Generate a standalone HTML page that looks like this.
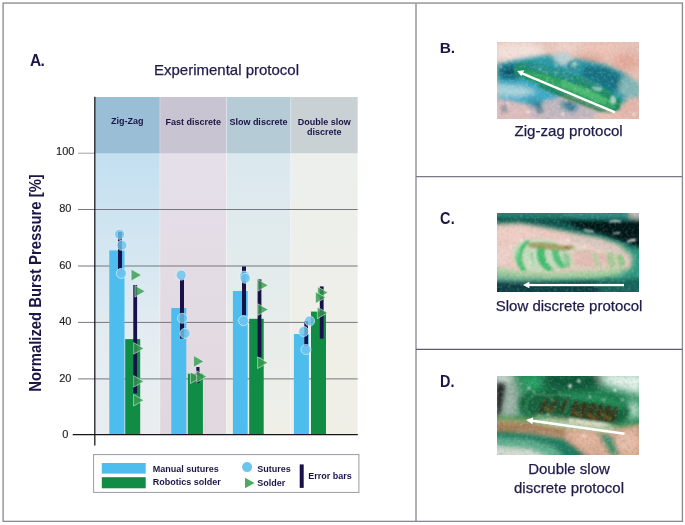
<!DOCTYPE html>
<html><head><meta charset="utf-8"><title>Figure</title>
<style>
html,body{margin:0;padding:0;background:#fff;}
svg{display:block;}
text{font-family:"Liberation Sans",Arial,sans-serif;}
.b{font-weight:bold;fill:#1b1546;}
.s{font-size:9px;font-weight:bold;fill:#1b1546;}
.cap{font-size:15px;fill:#1f1a4a;stroke:#1f1a4a;stroke-width:0.25px;}
.tick{font-size:11px;fill:#222;stroke:#222;stroke-width:0.15px;}
</style></head><body>
<svg width="685" height="525" viewBox="0 0 685 525">
<defs>
<linearGradient id="g1" x1="0" y1="0" x2="0" y2="1"><stop offset="0" stop-color="#b9dcf1"/><stop offset="0.75" stop-color="#e6edf1"/><stop offset="1" stop-color="#e9edef"/></linearGradient>
<linearGradient id="g2" x1="0" y1="0" x2="0" y2="1"><stop offset="0" stop-color="#e6e1ec"/><stop offset="1" stop-color="#e1d7de"/></linearGradient>
<linearGradient id="g3" x1="0" y1="0" x2="0" y2="1"><stop offset="0" stop-color="#d6e7f0"/><stop offset="1" stop-color="#efefe8"/></linearGradient>
<linearGradient id="g4" x1="0" y1="0" x2="0" y2="1"><stop offset="0" stop-color="#ecefee"/><stop offset="1" stop-color="#f0efe6"/></linearGradient>
<filter id="bl2" x="-20%" y="-20%" width="140%" height="140%"><feGaussianBlur stdDeviation="2"/></filter>
<filter id="bl4" x="-20%" y="-20%" width="140%" height="140%"><feGaussianBlur stdDeviation="4"/></filter>
<filter id="bl1" x="-20%" y="-20%" width="140%" height="140%"><feGaussianBlur stdDeviation="1"/></filter>
<filter id="noise" x="0" y="0" width="100%" height="100%"><feTurbulence type="fractalNoise" baseFrequency="0.35" numOctaves="3" seed="7" result="t"/><feColorMatrix type="matrix" values="0 0 0 0 1  0 0 0 0 1  0 0 0 0 1  1.6 0 0 0 -0.75"/></filter>
<filter id="noised" x="0" y="0" width="100%" height="100%"><feTurbulence type="fractalNoise" baseFrequency="0.3" numOctaves="3" seed="21" result="t"/><feColorMatrix type="matrix" values="0 0 0 0 0  0 0 0 0 0.1  0 0 0 0 0.1  0 1.6 0 0 -0.75"/></filter>
<clipPath id="cB"><rect x="497" y="42" width="142" height="77"/></clipPath>
<clipPath id="cC"><rect x="497" y="213" width="142" height="79"/></clipPath>
<clipPath id="cD"><rect x="497" y="376" width="142" height="79"/></clipPath>
</defs>
<rect width="685" height="525" fill="#fff"/>
<!-- outer frame -->
<rect x="3.1" y="3.05" width="679.3" height="518.3" fill="none" stroke="#8a8a94" stroke-width="1.35"/>
<line x1="416" y1="3.5" x2="416" y2="521.5" stroke="#84848f" stroke-width="1.3"/>
<line x1="416" y1="176.7" x2="682.4" y2="176.7" stroke="#7a7a86" stroke-width="1.2"/>
<line x1="416" y1="349.3" x2="682.4" y2="349.3" stroke="#5e5e6c" stroke-width="1.2"/>

<!-- chart A -->
<text class="b" transform="translate(30 65.6) scale(1 1.08)" font-size="15.5" letter-spacing="-0.6">A.</text>
<text x="226.5" y="74.9" font-size="15" text-anchor="middle" fill="#1f1a4a" stroke="#1f1a4a" stroke-width="0.25">Experimental protocol</text>

<g id="cols">
<rect x="95" y="97" width="65" height="337.5" fill="url(#g1)"/>
<rect x="160" y="97" width="66.6" height="337.5" fill="url(#g2)"/>
<rect x="226.6" y="97" width="64.2" height="337.5" fill="url(#g3)"/>
<rect x="290.8" y="97" width="66.8" height="337.5" fill="url(#g4)"/>
<rect x="95" y="97" width="65" height="56.2" fill="#9abed5"/>
<rect x="160" y="97" width="66.6" height="56.2" fill="#c9c4d1"/>
<rect x="226.6" y="97" width="64.2" height="56.2" fill="#b5cbd6"/>
<rect x="290.8" y="97" width="66.8" height="56.2" fill="#c9d1d5"/>
</g>
<g stroke="#ffffff" stroke-opacity="0.45" stroke-width="0.8"><line x1="159.9" y1="97" x2="159.9" y2="434"/><line x1="226.5" y1="97" x2="226.5" y2="434"/><line x1="290.7" y1="97" x2="290.7" y2="434"/></g>
<g id="grid" stroke="#77777d" stroke-width="1">
<line x1="78" y1="153.2" x2="95" y2="153.2" stroke-opacity="0.7"/>
<line x1="78" y1="209.5" x2="357.6" y2="209.5"/>
<line x1="78" y1="266" x2="357.6" y2="266"/>
<line x1="78" y1="322.4" x2="357.6" y2="322.4"/>
<line x1="78" y1="378.9" x2="357.6" y2="378.9"/>
</g>
<g class="tick" text-anchor="middle">
<text class="tick" x="65.3" y="155.3">100</text>
<text class="tick" x="65.3" y="211.9">80</text>
<text class="tick" x="65.3" y="268.5">60</text>
<text class="tick" x="65.3" y="325.1">40</text>
<text class="tick" x="65.3" y="381.8">20</text>
<text class="tick" x="65.3" y="438.2">0</text>
</g>
<text class="b" font-size="14.85" text-anchor="middle" transform="translate(40.9 283) rotate(-90) scale(1 1.09)">Normalized Burst Pressure [%]</text>

<g text-anchor="middle">
<text class="s" x="127.3" y="124.3">Zig-Zag</text>
<text class="s" x="193.3" y="124.7">Fast discrete</text>
<text class="s" x="258.4" y="124.6">Slow discrete</text>
<text class="s" x="324.3" y="124.6">Double slow</text>
<text class="s" x="324.3" y="135.3">discrete</text>
</g>

<!-- bars -->
<g id="bars">
<rect x="109.3" y="250.4" width="15.2" height="184.1" fill="#4dbdee"/>
<rect x="125.2" y="339.1" width="15" height="95.4" fill="#118c45"/>
<rect x="171.3" y="308" width="15" height="126.5" fill="#4dbdee"/>
<rect x="187.9" y="373.7" width="15" height="60.8" fill="#118c45"/>
<rect x="232.9" y="291" width="14.8" height="143.5" fill="#4dbdee"/>
<rect x="249.2" y="318.8" width="14.5" height="115.7" fill="#118c45"/>
<rect x="293.9" y="334" width="15" height="100.5" fill="#4dbdee"/>
<rect x="311" y="311.6" width="15" height="122.9" fill="#118c45"/>
</g>
<!-- error bars -->
<g fill="#19124a">
<rect x="118" y="232" width="4" height="37.3"/>
<rect x="133.3" y="285" width="3.8" height="108.4"/>
<rect x="180" y="279" width="4" height="59.6"/>
<rect x="196.3" y="367" width="3.2" height="16"/>
<rect x="242" y="266.5" width="4" height="49"/>
<rect x="257.6" y="279.4" width="3.8" height="77.6"/>
<rect x="304.3" y="321" width="3.7" height="25"/>
<rect x="319.8" y="286.4" width="3.8" height="52.2"/>
</g>
<!-- circles -->
<g fill="#6cc5ef" fill-opacity="0.82" stroke="#ffffff" stroke-opacity="0.75" stroke-width="0.7">
<circle cx="119.6" cy="234.3" r="5.05"/>
<circle cx="121.8" cy="245.3" r="5.05"/>
<circle cx="121.4" cy="273.4" r="5.05"/>
<circle cx="181.2" cy="275.1" r="5.05"/>
<circle cx="182.5" cy="318.3" r="5.05"/>
<circle cx="185" cy="333.4" r="5.05"/>
<circle cx="244.6" cy="276.1" r="5.05"/>
<circle cx="245.2" cy="278.3" r="5.05"/>
<circle cx="243.5" cy="320.6" r="5.05"/>
<circle cx="309.6" cy="321" r="5.05"/>
<circle cx="303.7" cy="331.5" r="5.05"/>
<circle cx="306" cy="349.5" r="5.05"/>
</g>
<!-- triangles -->
<g fill="#379c50" fill-opacity="0.82" stroke="#ffffff" stroke-opacity="0.7" stroke-width="0.7" stroke-linejoin="miter">
<path d="M131.2 269.3 L141.5 275.1 L131.2 280.9Z"/>
<path d="M134.9 285.5 L145.2 291.3 L134.9 297.1Z"/>
<path d="M133.6 342.6 L143.9 348.4 L133.6 354.2Z"/>
<path d="M133.6 375.6 L143.9 381.4 L133.6 387.2Z"/>
<path d="M133.6 394.4 L143.9 400.2 L133.6 406.0Z"/>
<path d="M193.6 355.6 L203.9 361.4 L193.6 367.2Z"/>
<path d="M190.4 371.9 L200.7 377.7 L190.4 383.5Z"/>
<path d="M196.6 370.8 L206.9 376.6 L196.6 382.4Z"/>
<path d="M257.9 279.5 L268.2 285.3 L257.9 291.1Z"/>
<path d="M257.9 303.8 L268.2 309.6 L257.9 315.4Z"/>
<path d="M257.6 356.9 L267.9 362.7 L257.6 368.5Z"/>
<path d="M317.7 286.8 L328.0 292.6 L317.7 298.4Z"/>
<path d="M315.5 291.8 L325.8 297.6 L315.5 303.4Z"/>
<path d="M317.3 307.1 L327.6 312.9 L317.3 318.7Z"/>
</g>
<!-- axes -->
<line x1="94.8" y1="96.8" x2="94.8" y2="445.6" stroke="#1c1c24" stroke-width="1.3"/>
<line x1="72.7" y1="434.6" x2="357.8" y2="434.6" stroke="#16161c" stroke-width="1.4"/>

<!-- legend -->
<rect x="93.6" y="454.6" width="265.3" height="37.8" fill="#fff" stroke="#9a9aa2" stroke-width="1"/>
<rect x="101.8" y="463" width="43.9" height="10.6" fill="#4dbdee"/>
<rect x="101.8" y="477.2" width="43.9" height="11.1" fill="#118c45"/>
<text class="s" x="152.7" y="471.6">Manual sutures</text>
<text class="s" x="152.7" y="485.4">Robotics solder</text>
<circle cx="247.1" cy="467.1" r="5" fill="#6cc5ef"/>
<path d="M245 477.7 L254.6 483 L245 488.3Z" fill="#4fa866"/>
<text class="s" x="257.2" y="471.6">Sutures</text>
<text class="s" x="257.2" y="485.8">Solder</text>
<rect x="299.7" y="464.4" width="4" height="23.5" fill="#19124a"/>
<text class="s" x="308.2" y="479.1">Error bars</text>

<!-- right panels -->
<text class="b" transform="translate(439.8 52.6) scale(1 0.96)" font-size="15.5" letter-spacing="-0.3">B.</text>
<text class="b" transform="translate(440.1 223.9) scale(1 1.09)" font-size="14.4" letter-spacing="0.2">C.</text>
<text class="b" transform="translate(440 387.3) scale(1 1.09)" font-size="14.4" letter-spacing="0.2">D.</text>
<text class="cap" x="568.6" y="135.9" style="font-size:15.1px" text-anchor="middle">Zig-zag protocol</text>
<text class="cap" x="569.1" y="310.7" text-anchor="middle">Slow discrete protocol</text>
<text class="cap" x="569" y="474.4" text-anchor="middle">Double slow</text>
<text class="cap" x="569" y="493" text-anchor="middle">discrete protocol</text>

<g id="photoB" clip-path="url(#cB)">
<rect x="497" y="42" width="142" height="77" fill="#e6c0b5"/>
<g filter="url(#bl4)">
<ellipse cx="518" cy="52" rx="28" ry="11" fill="#f3e0da"/>
<ellipse cx="566" cy="47" rx="14" ry="6" fill="#f0d4cb"/>
<ellipse cx="600" cy="50" rx="22" ry="7" fill="#efc4b6"/>
<ellipse cx="626" cy="62" rx="14" ry="9" fill="#e2a797"/>
<ellipse cx="590" cy="60" rx="14" ry="5" fill="#d79c8e"/>
<ellipse cx="628" cy="108" rx="18" ry="12" fill="#e4b4a8"/>
</g>
<g filter="url(#bl2)">
<path d="M497 64 L510 61 L528 58 L548 55 L566 57 L588 61 L606 65 L622 72 L634 80 L640 86 L640 94 L628 98 L622 104 L600 100 L570 92 L548 100 L530 104 L510 102 L497 100Z" fill="#2a9aa6"/>
<path d="M497 80 L520 78 L545 86 L562 95 L548 104 L520 104 L497 101Z" fill="#3eaac4"/>
<path d="M497 84 L522 86 L538 92 L520 97 L497 96Z" fill="#a4d0da"/>
<path d="M584 65 L606 67 L620 74 L625 86 L612 93 L596 85 L580 75Z" fill="#187283"/>
<path d="M499 66 L514 63 L522 70 L518 80 L504 80 L498 74Z" fill="#146a80"/>
<path d="M622 76 L640 82 L640 98 L626 98 L618 90Z" fill="#82b6b6"/>
<path d="M530 104 L560 98 L585 104 L600 112 L590 120 L530 120Z" fill="#c2b6bd"/>
<path d="M497 99 L520 103 L534 120 L497 120Z" fill="#dcbcbc"/>
<path d="M552 54 L566 52 L574 60 L566 66 L556 62Z" fill="#b9d0d4"/>
<path d="M560 100 L580 104 L576 112 L562 110Z" fill="#4f8fa3"/>
<path d="M528 98 L545 100 L540 108 L528 106Z" fill="#3c97ae"/>
</g>
<g filter="url(#bl1)">
<path d="M513 69 L519 63.500 L530 62.500 L560 70.500 L585 79 L606 89 L621 100 L620 109 L614 112 L600 108 L570 96 L540 84 L522 78 L514 75Z" fill="#1f8a62"/>
<path d="M524 70 L545 74 L575 84 L600 94 L616 104 L613 110 L600 106 L570 94 L540 82 L524 76Z" fill="#2fa35e"/>
<path d="M562 80 L590 90 L608 100 L604 104 L580 94 L560 86Z" fill="#48b870"/>
<ellipse cx="573" cy="66" rx="6.500" ry="5" fill="#3b8f9c"/>
<ellipse cx="574" cy="64.500" rx="3" ry="2.200" fill="#7fc2c2"/>
<ellipse cx="597" cy="88" rx="5" ry="2.600" fill="#8cc7c1" transform="rotate(20 597 88)"/>
<ellipse cx="613" cy="100" rx="2.600" ry="4" fill="#a6d5cd"/>
<ellipse cx="510" cy="72" rx="5" ry="3" fill="#0f5367"/>
<path d="M534 104 L540 102 L544 112 L538 114Z" fill="#2b5f7a" opacity="0.5"/>
<path d="M566 102 L571 101 L574 110 L569 111Z" fill="#2b5f7a" opacity="0.5"/>
<path d="M500 106 L506 104 L508 112 L502 114Z" fill="#6d7f96" opacity="0.5"/>
</g>
<g filter="url(#bl1)" opacity="0.8">
<path d="M520 63 L536 63 L552 67 L566 72 L574 78 L580 84 L566 80 L548 74 L530 70Z" fill="#2b9097"/>
<path d="M578 76 L592 80 L602 87 L592 87 L580 82Z" fill="#2a8a80"/>
<path d="M540 84 L570 96 L600 108 L612 113 L600 112 L566 99 L538 87Z" fill="#1b7a48"/>
<circle cx="540" cy="69" r="2" fill="#56b5b0"/><circle cx="556" cy="73" r="2.200" fill="#4aaaa8"/><circle cx="530" cy="66" r="1.800" fill="#1a7580"/><circle cx="548" cy="78" r="1.600" fill="#57c07a"/>
</g>
<rect x="497" y="42" width="142" height="77" filter="url(#noise)" opacity="0.3"/>
<rect x="497" y="42" width="142" height="77" filter="url(#noised)" opacity="0.1"/>
<g fill="#fff" opacity="0.85" filter="url(#bl1)">
<circle cx="505" cy="61" r="1.100"/><circle cx="511" cy="58" r="0.900"/><circle cx="501" cy="67" r="1"/><circle cx="575" cy="63" r="1.100"/>
<circle cx="528" cy="112" r="1.200"/><circle cx="508" cy="103" r="1"/><circle cx="563" cy="114" r="1.400"/><circle cx="556" cy="66" r="0.900"/>
<circle cx="546" cy="72" r="0.800"/><circle cx="566" cy="80" r="0.800"/><circle cx="588" cy="90" r="0.800"/><circle cx="634" cy="114" r="1.3"/>
</g>
<g fill="#fff"><path d="M615.500 111.200 L614.600 113.400 L521.600 74.400 L522.500 72.200Z"/>
<path d="M517.100 71.100 L524.200 70.200 L521.400 76.300Z"/></g>
</g>
<g id="photoC" clip-path="url(#cC)">
<rect x="497" y="213" width="142" height="79" fill="#115a54"/>
<g filter="url(#bl2)">
<rect x="490" y="208" width="90" height="12" fill="#23806f"/>
<rect x="490" y="218" width="90" height="7" fill="#0e4b47"/>
<path d="M560 208 L645 208 L645 222 L600 220 L565 218Z" fill="#2b8a80"/>
<path d="M560 219 L600 219 L645 220 L645 250 L628 244 L604 235 L580 229Z" fill="#041717"/>
<path d="M628 208 L645 208 L645 219 L630 218Z" fill="#b9b7b0"/>
<path d="M610 244 L645 250 L645 282 L612 282Z" fill="#2f957f"/>
<rect x="490" y="280.5" width="160" height="16" fill="#0a3c42"/>
<path d="M596 280 L645 278 L645 296 L600 296Z" fill="#176259"/>
</g>
<g filter="url(#bl2)">
<path d="M490 223 L520 222 L545 226 L570 231 L600 236 L622 243 L636 256 L635 268 L622 277 L600 280 L560 281 L520 282 L490 281Z" fill="#46a888"/>
<path d="M490 225 L520 224 L545 228 L570 233 L598 238.500 L618 245 L631 257 L630 267 L618 273 L598 275 L560 276 L520 278 L490 278Z" fill="#ebc9c0"/>
<ellipse cx="560" cy="252" rx="50" ry="12" fill="#f0d6ce" opacity="0.7"/>
<path d="M490 266 L520 271 L560 272 L600 270 L626 266 L620 274 L598 277.5 L560 278.5 L520 280 L490 280Z" fill="#a4cf9f"/>
<path d="M490 274 L520 277 L545 277 L545 281 L490 281Z" fill="#6fae93"/>
<ellipse cx="516" cy="235" rx="20" ry="7" fill="#efcdc5"/>
<ellipse cx="503" cy="256" rx="7" ry="10" fill="#edd0c8"/>
<path d="M570 236 L600 242 L618 248 L628 258 L616 256 L596 248 L570 242Z" fill="#d9c7bd"/>
</g>
<g filter="url(#bl1)">
<path d="M513 253 Q514 242 526 239.5 Q540 237 553 241 Q566 245 568 257 Q567 268 553 270.5 Q537 272 524 270.5 Q513 266 513 253Z" fill="#c3dcbb" opacity="0.9"/>
<path d="M527 240 Q507 255 522 271 L527 270.5 Q516 256 530 241Z" fill="#46c070"/>
<path d="M519 247 Q514 256 520 266 Q517 256 521 248Z" fill="#7fd49a"/>
<path d="M538 246 Q533 262 547 271 L554 270 Q543 260 545 247Z" fill="#43bd6e"/>
<path d="M552 250 Q551 262 562 269 L567 266 Q559 259 558.5 250Z" fill="#52c27a"/>
<path d="M530 252 Q530 262 536 268 Q532 260 533 252Z" fill="#8fd3a2"/>
<path d="M528 243 Q545 240 560 245 Q572 246 576 249 Q566 252 552 250 Q538 249 528 247Z" fill="#96904f" opacity="0.75"/>
<ellipse cx="569" cy="247.5" rx="6" ry="2.2" fill="#8f8246" opacity="0.8"/>
<path d="M570 247 L596 250 L618 254 L626 262 L614 269 L592 269 L570 268Z" fill="#cfd2b2" opacity="0.7"/>
<path d="M574 252 L590 250 L606 254 L610 264 L590 267 L574 265Z" fill="#e4b9b0" opacity="0.85"/>
<path d="M566 252 Q572 256 570 268 L564 268 Q566 260 562 254Z" fill="#7fc48f" opacity="0.8"/>
<path d="M606 254 L612 252 L616 266 L610 268Z" fill="#9fca90" opacity="0.9"/>
<path d="M616 256 L622 254 L626 264 L620 268Z" fill="#8fc58a" opacity="0.9"/>
<path d="M592 254 L596 252 L600 266 L596 267Z" fill="#b5cfa0" opacity="0.9"/>
</g>
<g fill="#fff" opacity="0.9" filter="url(#bl1)">
<path d="M609 221.500 Q615 218.500 621 221.500 L621 223 Q615 220.500 609 223Z"/>
<path d="M627 241 Q632 238 636 239 L636 241 Q632 240.500 627 243Z"/>
<rect x="584" y="229" width="10" height="1.500" transform="rotate(12 584 229)"/>
<rect x="613" y="233" width="7" height="1.300" transform="rotate(-8 613 233)"/>
<circle cx="521" cy="240" r="1"/><circle cx="511" cy="247" r="1.2"/><circle cx="547" cy="262" r="1.1"/><circle cx="568" cy="240" r="1"/>
<circle cx="585" cy="246" r="0.9"/><circle cx="598" cy="252" r="0.9"/><circle cx="578" cy="258" r="0.8"/><circle cx="604" cy="262" r="0.8"/><circle cx="530" cy="262" r="1"/>
</g>
<rect x="497" y="213" width="142" height="79" filter="url(#noise)" opacity="0.25"/>
<rect x="497" y="213" width="142" height="79" filter="url(#noised)" opacity="0.13"/>
<g fill="#fff"><rect x="528" y="283.9" width="96" height="2.3"/><path d="M522.9 285 L529.4 281.7 L529.4 288.3Z"/></g>
</g>
<g id="photoD" clip-path="url(#cD)">
<rect x="497" y="376" width="142" height="79" fill="#1f8352"/>
<g filter="url(#bl4)">
<path d="M490 370 L512 370 L521 395 L519 418 L490 420Z" fill="#9db2a6"/>
<ellipse cx="503" cy="377" rx="10" ry="4" fill="#e3e8e2"/>
<path d="M548 372 L606 372 L600 388 L570 393 L540 386Z" fill="#0e5534"/>
<ellipse cx="532" cy="382" rx="10" ry="5" fill="#2fae6e"/>
<path d="M598 372 L645 372 L645 396 L628 392 L606 386Z" fill="#e6f2ea"/>
<ellipse cx="633" cy="410" rx="9" ry="9" fill="#b5dcc6"/>
</g>
<g filter="url(#bl2)">
<path d="M519 400 Q528 390 556 390 Q590 390 612 396 Q628 402 630 412 Q626 424 604 427 Q570 426 540 422 Q518 416 519 400Z" fill="#16603a"/>
<path d="M560 392 L600 394 L622 402 L626 410 L600 404 L566 398Z" fill="#238a55"/>
<path d="M490 416 L530 418 L566 424 L600 429 L645 422 L645 460 L588 460 L566 444 L524 434 L490 431Z" fill="#6f9c5c"/>
<path d="M490 421 L530 423 L566 428 L600 431.500 L645 424.500 L645 460 L592 460 L564 438 L530 432.500 L490 430.500Z" fill="#dcab93"/>
<path d="M490 422 L530 424 L566 429 L566 436 L530 431 L490 431Z" fill="#a87c54"/>
<path d="M490 430.500 L530 432.500 L564 438 L592 460 L490 460Z" fill="#1f7d5e"/>
<path d="M490 437 L530 440 L562 449 L572 460 L490 460Z" fill="#5fae8e"/>
<path d="M490 446 L530 449 L556 460 L490 460Z" fill="#d2d9cf"/>
<path d="M548 440 L575 446 L592 460 L566 460Z" fill="#1f7c5e"/>
<path d="M598 432 L612 436 L620 456 L611 456 L603 442Z" fill="#3f8f6c"/>
<ellipse cx="627" cy="442" rx="11" ry="10" fill="#e8bba6"/>
<ellipse cx="586" cy="440" rx="12" ry="7" fill="#e3b39c"/>
<path d="M536 416 L580 421 L616 426 L612 432 L560 427 L536 423Z" fill="#b4cda2"/>
<path d="M496 383 L505.5 384 L503.5 396 L500.5 414 L496 418Z" fill="#1a2024"/>
</g>
<g filter="url(#bl1)">
<ellipse cx="540" cy="406" rx="14" ry="12" fill="none" stroke="#3c9a66" stroke-width="1.5"/>
<ellipse cx="556" cy="404" rx="12" ry="10" fill="none" stroke="#2f8857" stroke-width="1.2"/>
<path d="M570 404 L590 404 L612 408 L618 416 L612 422 L590 421 L572 417Z" fill="#3a3216" opacity="0.55"/>
<path d="M538 402 L556 401 L566 406 L560 414 L542 413Z" fill="#24401f" opacity="0.5"/>
<g stroke="#3f2c12" stroke-width="2.6" fill="none" stroke-linecap="round">
<path d="M548 398 L541 411"/><path d="M556 400 L550 412"/><path d="M567 399 L562 412"/><path d="M577 402 L572 415"/>
<path d="M585 403 L581 417"/><path d="M593 404 L589 419"/><path d="M601 405 L597 420"/><path d="M609 406 L606 420"/><path d="M616 408 L613 420"/>
</g>
<g stroke="#8a5a22" stroke-width="1.5" fill="none" stroke-linecap="round">
<path d="M574 412 L580 416"/><path d="M588 414 L596 419"/><path d="M602 414 L610 419"/><path d="M545 408 L552 411"/>
</g>
<path d="M568 418 L600 422 L612 425 L600 427 L570 423Z" fill="#d9d9c0"/>
</g>
<g fill="#fff" filter="url(#bl1)">
<circle cx="579" cy="381" r="1.600"/><circle cx="570" cy="386" r="1.800"/><circle cx="529" cy="388" r="1.300"/><circle cx="615" cy="390" r="1.300"/>
<circle cx="534" cy="392" r="0.9"/><circle cx="560" cy="394" r="0.8"/><circle cx="590" cy="397" r="0.9"/><circle cx="604" cy="400" r="0.9"/><circle cx="548" cy="414" r="0.9"/>
<circle cx="584" cy="436" r="1.2"/><circle cx="622" cy="400" r="1"/>
</g>
<rect x="497" y="376" width="142" height="79" filter="url(#noise)" opacity="0.25"/>
<rect x="497" y="376" width="142" height="79" filter="url(#noised)" opacity="0.25"/>
<g fill="#fff"><path d="M624.6 432.6 L624.2 435.1 L532 421.9 L532.4 419.4Z"/><path d="M526.1 420 L533.4 417.2 L532.4 424.2Z"/></g>
</g>
</svg>
</body></html>
